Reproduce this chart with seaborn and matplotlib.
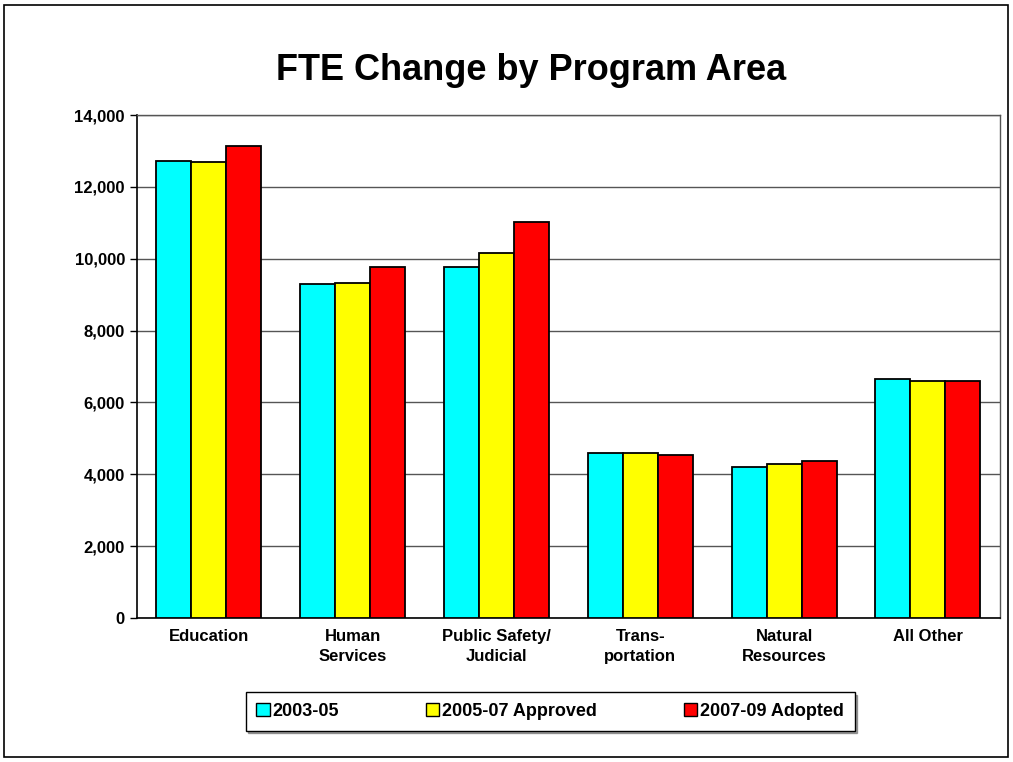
import numpy as np
import pandas as pd
import matplotlib
matplotlib.use("Agg")
import matplotlib.pyplot as plt
import seaborn as sns
from matplotlib.patches import Rectangle
from matplotlib.ticker import FuncFormatter, FixedLocator

areas = ["Education", "Human\nServices", "Public Safety/\nJudicial", "Trans-\nportation",
         "Natural\nResources", "All Other"]
series = ["2003-05", "2005-07 Approved", "2007-09 Adopted"]
fte_0305 = [12730, 9290, 9770, 4590, 4210, 6650]
fte_0507 = [12690, 9330, 10160, 4600, 4300, 6610]
fte_0709 = [13140, 9770, 11020, 4540, 4370, 6600]
colors = ["#00FFFF", "#FFFF00", "#FF0000"]

df = pd.DataFrame({"Area": areas * 3,
                   "Period": [s for s in series for _ in areas],
                   "FTE": fte_0305 + fte_0507 + fte_0709})

sns.set_style("white")
plt.rcParams['font.family'] = ['Liberation Sans', 'DejaVu Sans']
plt.rcParams['font.weight'] = 'bold'
plt.rcParams['text.color'] = 'black'
plt.rcParams['xtick.color'] = 'black'
plt.rcParams['ytick.color'] = 'black'

fig = plt.figure(figsize=(10.13, 7.62), dpi=100)
ax = fig.add_axes([0.135, 0.189, 0.852, 0.66])

ax = sns.barplot(data=df, x="Area", y="FTE", hue="Period", palette=colors,
                 width=0.73, gap=0, edgecolor="black", linewidth=1.3,
                 saturation=1, ax=ax, zorder=3)

ax.set_ylim(0, 14000)
ax.set_xlim(-0.5, 5.5)
ax.set_yticks(np.arange(0, 14001, 2000))
ax.yaxis.set_major_formatter(FuncFormatter(lambda v, p: f"{int(v):,}"))
ax.yaxis.grid(True, color="#555555", linewidth=1, zorder=0)
ax.set_axisbelow(True)
ax.set_xlabel("")
ax.set_ylabel("")

# ticks between categories
ax.xaxis.set_minor_locator(FixedLocator(np.arange(-0.5, 6, 1)))
ax.tick_params(axis="x", which="major", length=0, pad=8, labelsize=12, labelcolor="black")
ax.tick_params(axis="x", which="minor", length=5, width=1, color="black", direction="out")
ax.tick_params(axis="y", length=5, width=1, color="black", direction="out", labelsize=12,
               left=True, labelcolor="black")
for lab in ax.get_xticklabels():
    lab.set_fontweight("bold")
    lab.set_linespacing(1.45)
for lab in ax.get_yticklabels():
    lab.set_fontweight("bold")

for side in ["left", "bottom"]:
    ax.spines[side].set_color("black")
    ax.spines[side].set_linewidth(1.2)
for side in ["top", "right"]:
    ax.spines[side].set_color("#555555")
    ax.spines[side].set_linewidth(1.0)

fig.text(0.524, 0.908, "FTE Change by Program Area", ha="center", va="center",
         fontsize=26, fontweight="bold", color="black")

ax.legend_.remove()
handles = [Rectangle((0, 0), 1, 1, facecolor=c, edgecolor="black", linewidth=1) for c in colors]
leg = fig.legend(handles, series, loc="center", bbox_to_anchor=(0.543, 0.0665), ncol=3,
                 frameon=True, fancybox=False, shadow=True, edgecolor="black",
                 prop={"weight": "bold", "size": 13}, handlelength=0.75, handleheight=0.75,
                 handletextpad=0.15, columnspacing=4.8, borderpad=0.6, borderaxespad=0)
leg.get_frame().set_linewidth(1)

fig.patches.append(Rectangle((0.004, 0.006), 0.991, 0.988, transform=fig.transFigure,
                             fill=False, edgecolor="black", linewidth=1.2))

fig.savefig("out.png", dpi=100)
